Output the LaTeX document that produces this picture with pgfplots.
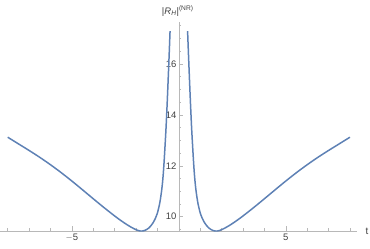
\documentclass[border=0pt]{standalone}
\usepackage{pgfplots}
\pgfplotsset{compat=1.18}
\usepackage{fontspec}
\setmainfont{Liberation Sans}
\definecolor{mblue}{rgb}{0.368417,0.506779,0.709798}
\definecolor{axgray}{gray}{0.72}
\definecolor{labgray}{gray}{0.25}
\begin{document}
\begin{tikzpicture}
\useasboundingbox (0,0) rectangle (370bp,249bp);
\begin{axis}[
  at={(0bp,18bp)}, anchor=south west,
  scale only axis, width=357bp, height=209bp,
  xmin=-8.36, xmax=8.33, ymin=9.44, ymax=17.64,
  axis x line=bottom, axis y line=center,
  axis line style={axgray, line width=0.6pt, -},
  clip=false,
  xtick={-5,5}, ytick={10,12,14,16},
  minor xtick={-8,-7,-6,-4,-3,-2,-1,1,2,3,4,6,7,8},
  minor ytick={9.5,10.5,11,11.5,12.5,13,13.5,14.5,15,15.5,16.5,17,17.5},
  tick align=inside,
  major tick length=4.5bp, minor tick length=2.5bp,
  tick style={axgray, line width=0.5pt},
  every tick label/.style={font=\fontsize{9.5}{11}\selectfont, text=labgray},
  /pgf/number format/assume math mode=true,
  xticklabels={$-$5,5},
  yticklabels={10,12,14,16},
  xticklabel style={yshift=1bp},
  yticklabel style={xshift=1bp},
  xlabel={t}, ylabel={|\textit{R}\textsubscript{\textit{H}}|\textsuperscript{(NR)}},
  xlabel style={at={(axis description cs:1,0)}, anchor=west, xshift=5bp, font=\fontsize{10}{12}\selectfont, text=labgray},
  ylabel style={at={(axis cs:-0.05,17.64)}, anchor=south, rotate=0, yshift=2bp, font=\fontsize{9.5}{11}\selectfont, text=labgray},
]
\addplot[mblue, line width=1.5pt, smooth] coordinates {
(-8.0,13.12) (-7.5,12.86) (-7.0,12.60) (-6.5,12.33) (-6.0,12.04) (-5.5,11.73)
(-5.0,11.40) (-4.5,11.055) (-4.0,10.705) (-3.5,10.36) (-3.0,10.03)
(-2.75,9.875) (-2.5,9.73) (-2.25,9.6) (-2.0,9.49) (-1.9,9.46) (-1.8,9.44)
(-1.7,9.44) (-1.6,9.46) (-1.5,9.5) (-1.4,9.56) (-1.3,9.65) (-1.2,9.77)
(-1.1,9.93) (-1.0,10.15) (-0.9,10.5) (-0.85,10.75) (-0.8,11.05) (-0.75,11.45)
(-0.7,12.0) (-0.65,12.7) (-0.6,13.45) (-0.55,14.35) (-0.5,15.35) (-0.45,16.4)
(-0.41,17.28)
};
\addplot[mblue, line width=1.5pt, smooth] coordinates {
(0.41,17.28) (0.45,16.4) (0.5,15.35) (0.55,14.35) (0.6,13.45) (0.65,12.7)
(0.7,12.0) (0.75,11.45) (0.8,11.05) (0.85,10.75) (0.9,10.5) (1.0,10.15)
(1.1,9.93) (1.2,9.77) (1.3,9.65) (1.4,9.56) (1.5,9.5) (1.6,9.46) (1.7,9.44)
(1.8,9.44) (1.9,9.46) (2.0,9.49) (2.25,9.6) (2.5,9.73) (2.75,9.875) (3.0,10.03)
(3.5,10.36) (4.0,10.705) (4.5,11.055) (5.0,11.40) (5.5,11.73)
(6.0,12.04) (6.5,12.33) (7.0,12.60) (7.5,12.86) (8.0,13.12)
};
\end{axis}
\end{tikzpicture}
\end{document}
